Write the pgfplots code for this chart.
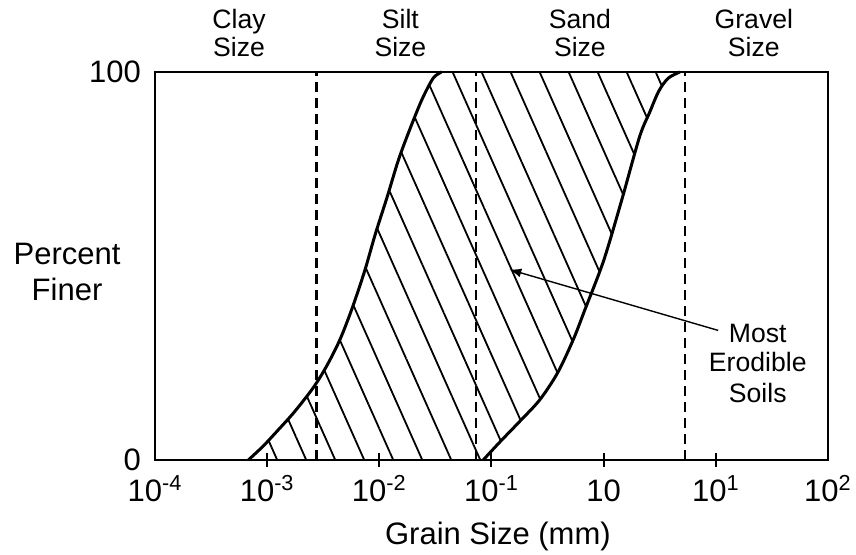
\documentclass[border=0pt]{standalone}
\usepackage{fontspec}
\setmainfont{Liberation Sans}
\usepackage{pgfplots}
\pgfplotsset{compat=1.18}
\usepgfplotslibrary{fillbetween}
\usetikzlibrary{patterns.meta,arrows.meta}

\newcommand{\labfont}{\fontsize{13.3}{15}\selectfont}
\newcommand{\bigfont}{\fontsize{15.5}{17}\selectfont}

\begin{document}
\begin{tikzpicture}
\begin{axis}[
  set layers,
  scale only axis, width=336.5pt, height=194pt,
  xmin=-4, xmax=2, ymin=0, ymax=100,
  clip=false,
  axis line style={line width=1.3pt},
  xtick={-3,-2,-1,0,1},
  xticklabels={10\textsuperscript{-3},10\textsuperscript{-2},10\textsuperscript{-1},10,10\textsuperscript{1}},
  extra x ticks={-4,2},
  extra x tick labels={10\textsuperscript{-4},10\textsuperscript{2}},
  extra x tick style={major tick length=0pt, xticklabel style={yshift=-3.5pt}},
  xtick pos=bottom, tick align=center, major tick length=7pt,
  xtick style={line width=1pt, black},
  xticklabel style={anchor=base, yshift=-17pt, font=\bigfont},
  ytick={0,100}, yticklabels={0,100}, ytick style={draw=none},
  yticklabel style={font=\bigfont},
]
% region bounds
\addplot[name path=L, smooth, line width=1.5pt] coordinates {
  (-3.168,0) (-3.035,3.6) (-2.90,7.8) (-2.76,12.3) (-2.59,18.6)
  (-2.47,24.2) (-2.35,31.1) (-2.24,39.3) (-2.13,48.8) (-2.035,58.3)
  (-1.93,67.8) (-1.83,77.3) (-1.73,85.1) (-1.62,92.9) (-1.52,98.4)
  (-1.445,100)};
\addplot[name path=R, smooth, line width=1.5pt] coordinates {
  (-1.074,0) (-0.93,4.5) (-0.75,9.9) (-0.57,15.5) (-0.41,22.5)
  (-0.27,31.1) (-0.165,38.9) (0.0,51.4) (0.16,66.9) (0.32,83.3)
  (0.41,89.6) (0.49,95) (0.575,98.4) (0.68,100)};
\addplot[draw=none, pattern={Lines[angle=-66,distance=13.25pt,line width=0.9pt]}]
  fill between[of=L and R];
% size class boundaries
\addplot[line width=1.1pt, dash pattern=on 5pt off 3pt] coordinates {(-2.56,0) (-2.56,100)};
\addplot[line width=1.1pt, dash pattern=on 5pt off 3pt] coordinates {(-1.139,0) (-1.139,100)};
\addplot[line width=1.1pt, dash pattern=on 5pt off 3pt] coordinates {(0.724,0) (0.724,100)};
% top labels
\node[anchor=base, font=\labfont] at (axis cs:-3.251,111.3) {Clay};
\node[anchor=base, font=\labfont] at (axis cs:-3.251,103.9) {Size};
\node[anchor=base, font=\labfont] at (axis cs:-1.812,111.3) {Silt};
\node[anchor=base, font=\labfont] at (axis cs:-1.812,103.9) {Size};
\node[anchor=base, font=\labfont] at (axis cs:-0.212,111.3) {Sand};
\node[anchor=base, font=\labfont] at (axis cs:-0.212,103.9) {Size};
\node[anchor=base, font=\labfont] at (axis cs:1.339,111.3) {Gravel};
\node[anchor=base, font=\labfont] at (axis cs:1.339,103.9) {Size};
% y label
\node[anchor=base, font=\bigfont] at (axis cs:-4.784,50.3) {Percent};
\node[anchor=base, font=\bigfont] at (axis cs:-4.784,41.2) {Finer};
% x label
\node[anchor=base, font=\bigfont] at (axis cs:-0.943,-21.9) {Grain Size (mm)};
% annotation
\draw[-{Latex[length=6pt,width=4.5pt]}, line width=0.7pt] (axis cs:1.021,33.4) -- (axis cs:-0.841,49.1);
\node[anchor=base, font=\labfont] at (axis cs:1.374,30.4) {Most};
\node[anchor=base, font=\labfont] at (axis cs:1.374,22.7) {Erodible};
\node[anchor=base, font=\labfont] at (axis cs:1.374,14.9) {Soils};
\coordinate (BL) at (axis description cs:-0.2303,-0.2423);
\coordinate (TR) at (axis description cs:1.0416,1.1856);
\end{axis}
\pgfresetboundingbox
\path (BL) rectangle (TR);
\end{tikzpicture}
\end{document}
